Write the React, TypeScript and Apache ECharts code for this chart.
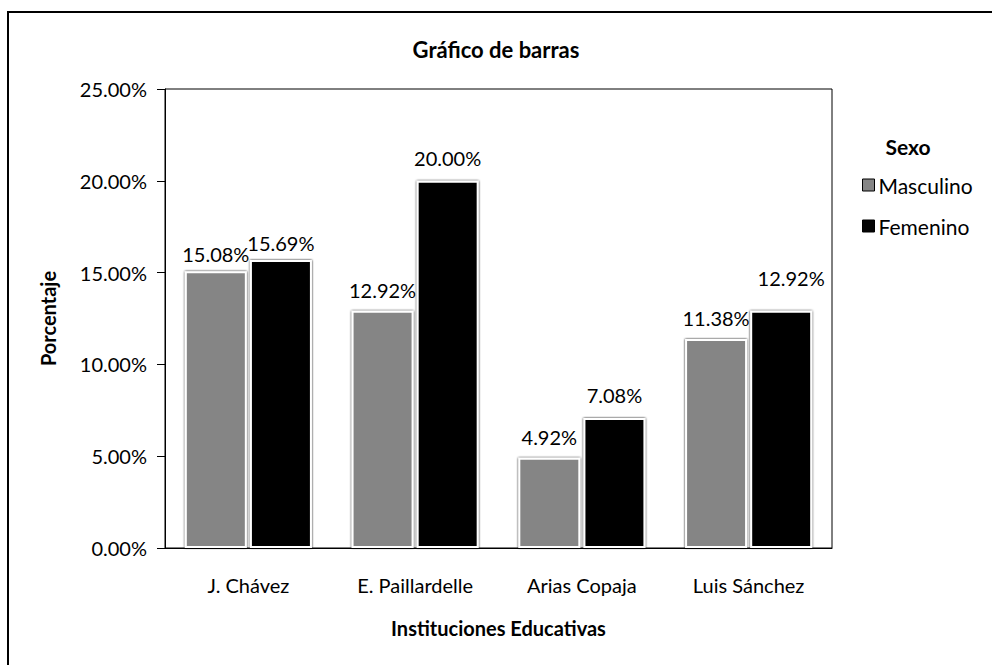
import React, { useEffect, useRef } from "react";
import * as echarts from "echarts";

const categories = ["J. Chávez", "E. Paillardelle", "Arias Copaja", "Luis Sánchez"];
const masculino = [15.08, 12.92, 4.92, 11.38];
const femenino = [15.69, 20.0, 7.08, 12.92];
const yTicks = { min: 0, max: 25, interval: 5 };

const mascLabelOffsets = [[0, 4], [0, 0], [0, 0], [0, 0]];
const femLabelOffsets = [[0, 4], [0, -2], [0, -2], [10, -12]];

const FONT = "Lato";

export default function App() {
  const ref = useRef<HTMLDivElement>(null);
  useEffect(() => {
    if (!ref.current) return;
    const chart = echarts.init(ref.current, undefined, { renderer: "svg" });
    const pct = (v: number) => v.toFixed(2) + "%";
    const mkData = (vals: number[], offs: number[][]) =>
      vals.map((v, i) => ({ value: v, label: { offset: offs[i] } }));
    const barStyle = (color: string) => ({
      color,
      borderColor: "#fff",
      borderWidth: 2,
      shadowColor: "rgba(0,0,0,1)",
      shadowBlur: 2,
    });
    chart.setOption({
      animation: false,
      backgroundColor: "#fff",
      textStyle: { fontFamily: FONT, color: "#000" },
      title: {
        text: "Gráfico de barras",
        left: "center",
        top: 33,
        textStyle: { fontFamily: FONT, fontSize: 22, fontWeight: "bold", color: "#000" },
      },
      graphic: [
        {
          type: "rect",
          shape: { x: 8, y: 12, width: 1000, height: 700 },
          style: { fill: "none", stroke: "#000", lineWidth: 2 },
          silent: true,
        },
        {
          type: "text",
          x: 908,
          y: 146,
          style: {
            text: "Sexo",
            fontFamily: FONT,
            fontSize: 21,
            fontWeight: "bold",
            fill: "#000",
            align: "center",
            verticalAlign: "middle",
          },
        },
      ],
      legend: {
        orient: "vertical",
        left: 857,
        top: 168,
        itemWidth: 12,
        itemHeight: 12,
        itemGap: 17,
        icon: "rect",
        itemStyle: { borderColor: "#000", borderWidth: 1, shadowBlur: 0 },
        textStyle: { fontFamily: FONT, fontSize: 21, color: "#000", lineHeight: 24, padding: [0, 0, 0, -1] },
        data: ["Masculino", "Femenino"],
      },
      grid: {
        left: 165,
        top: 89,
        right: 160,
        bottom: 117,
        show: true,
        borderColor: "#000",
        borderWidth: 1,
        containLabel: false,
      },
      xAxis: {
        type: "category",
        data: categories,
        name: "Instituciones Educativas",
        nameLocation: "middle",
        nameGap: 70,
        nameTextStyle: { fontFamily: FONT, fontSize: 20, fontWeight: "bold", color: "#000" },
        axisLine: { lineStyle: { color: "#000", width: 1 } },
        axisTick: { show: false },
        axisLabel: { fontFamily: FONT, fontSize: 20, color: "#000", margin: 27 },
      },
      yAxis: {
        type: "value",
        min: yTicks.min,
        max: yTicks.max,
        interval: yTicks.interval,
        name: "Porcentaje",
        nameLocation: "middle",
        nameRotate: 90,
        nameGap: 107,
        nameTextStyle: { fontFamily: FONT, fontSize: 20, fontWeight: "bold", color: "#000" },
        axisLine: { show: true, lineStyle: { color: "#000", width: 1 } },
        axisTick: { show: true, length: 8, lineStyle: { color: "#000" } },
        splitLine: { show: false },
        axisLabel: { fontFamily: FONT, fontSize: 20, color: "#000", margin: 18, formatter: (v: number) => pct(v) },
      },
      series: [
        {
          name: "Masculino",
          type: "bar",
          data: mkData(masculino, mascLabelOffsets),
          barWidth: 62,
          barGap: "5%",
          itemStyle: barStyle("#858585"),
          label: {
            show: true,
            position: "top",
            distance: 11,
            fontFamily: FONT,
            fontSize: 20,
            color: "#000",
            formatter: (p: any) => pct(p.value),
          },
        },
        {
          name: "Femenino",
          type: "bar",
          data: mkData(femenino, femLabelOffsets),
          barWidth: 62,
          barGap: "5%",
          itemStyle: barStyle("#050505"),
          label: {
            show: true,
            position: "top",
            distance: 11,
            fontFamily: FONT,
            fontSize: 20,
            color: "#000",
            formatter: (p: any) => pct(p.value),
          },
        },
      ],
    });
    return () => chart.dispose();
  }, []);
  return (
    <div
      ref={ref}
      style={{ position: "absolute", left: 0, top: 0, width: 992, height: 665 }}
    />
  );
}
